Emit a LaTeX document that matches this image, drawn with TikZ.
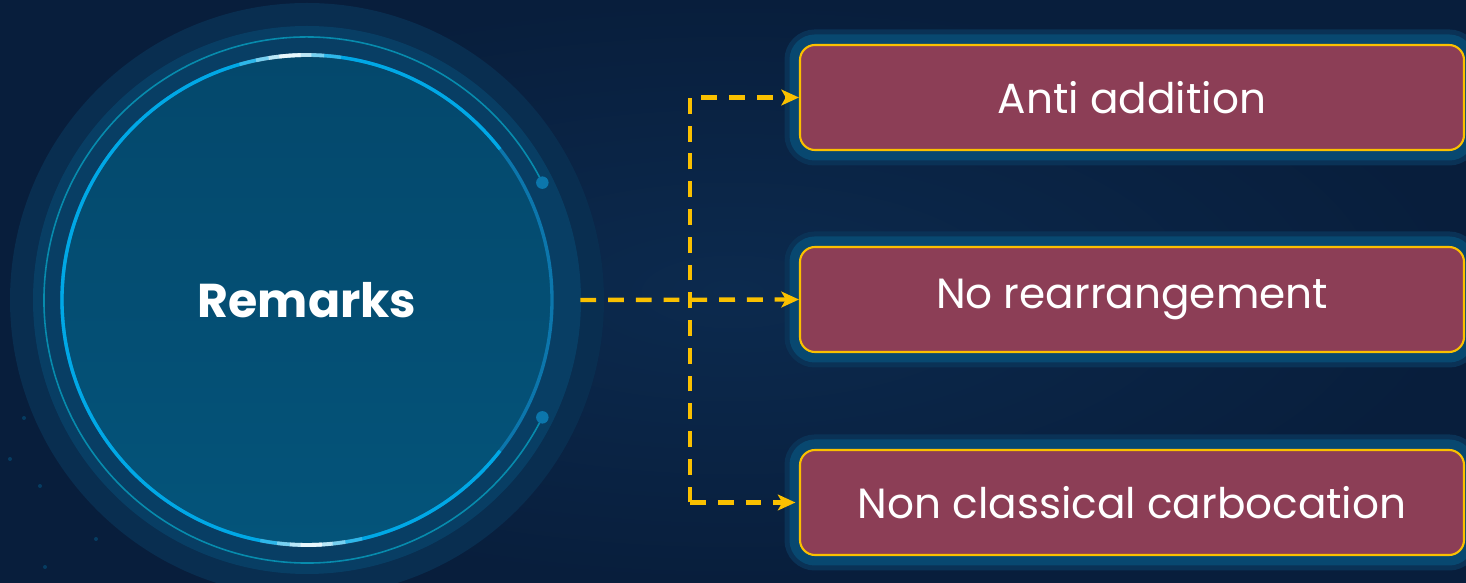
\documentclass[tikz,border=0pt]{standalone}
\usepackage{fontspec}
\setmainfont{Poppins}
\usetikzlibrary{positioning,calc,arrows.meta}
\definecolor{bgnavy}{RGB}{12,42,78}
\definecolor{bgdeep}{RGB}{8,30,60}
\definecolor{halofaint}{RGB}{9,46,80}
\definecolor{haloband}{RGB}{8,62,100}
\definecolor{discblue}{RGB}{4,84,122}
\definecolor{disctop}{RGB}{4,72,108}
\definecolor{rimcyan}{RGB}{0,168,230}
\definecolor{ringblue}{RGB}{12,118,172}
\definecolor{plum}{RGB}{140,62,86}
\definecolor{gold}{RGB}{250,192,0}
\definecolor{glowband}{RGB}{8,72,112}
\definecolor{glowfaint}{RGB}{10,50,86}
\tikzset{
    % Central hub (text only, discs are filled underneath)
    hub/.style={
        circle, draw=none, minimum size=10.92cm, inner sep=0pt,
        text=white, font=\bfseries\fontsize{27}{32}\selectfont
    },
    % Option boxes on the right
    optbox/.style={
        rectangle, draw=gold, line width=1.2pt, fill=plum,
        rounded corners=0.3cm,
        minimum width=13.28cm, minimum height=2.1cm,
        text=white, font=\fontsize{24}{29}\selectfont,
        preaction={draw=glowfaint, line width=0.62cm},
        preaction={draw=glowband, line width=0.42cm}
    },
    % Dashed yellow connectors
    flow/.style={
        draw=gold, line width=2.5pt, dash pattern=on 9pt off 6.8pt,
        -{Stealth[length=10pt, width=9pt, inset=2.5pt]}
    }
}

\begin{document}
\begin{tikzpicture}

% canvas
\useasboundingbox (0,0) rectangle (29.32,11.66);
\shade[inner color=bgnavy, outer color=bgdeep] (0,0) rectangle (29.32,11.66);

% faint particles bottom left
\foreach \px/\py in {0.48/3.3, 0.2/2.48, 1.46/2.55, 0.8/1.94, 2.5/1.42, 2.46/1.12, 1.92/0.88, 0.9/0.32, 4.4/0.38}
    \fill[rimcyan, opacity=0.22] (\px,\py) circle (0.04);

% hub discs
\coordinate (c) at (6.14,5.66);
\fill[halofaint] (c) circle (5.94);
\fill[haloband] (c) circle (5.48);
\draw[ringblue!60!cyan, line width=0.9pt, opacity=0.7]
    ($(c)+(26.5:5.26)$) arc[start angle=26.5, end angle=333.5, radius=5.26];
\fill[ringblue] ($(c)+(26.5:5.26)$) circle (0.125);
\fill[ringblue] ($(c)+(-26.5:5.26)$) circle (0.125);
\shade[top color=disctop, bottom color=discblue] (c) circle (4.9);
\draw[ringblue, line width=1.9pt] (c) circle (4.9);
\draw[rimcyan, line width=1.9pt] ($(c)+(38:4.9)$) arc[start angle=38, end angle=322, radius=4.9];

% glints on the rim
\foreach \w/\o in {12/0.18, 8/0.35, 5/0.5, 2.5/0.7} {
    \draw[white, opacity=\o, line width=2.2pt]
        ($(c)+(94-\w:4.9)$) arc[start angle=94-\w, end angle=94+\w, radius=4.9];
    \draw[white, opacity=\o, line width=2.2pt]
        ($(c)+(-89-\w:4.9)$) arc[start angle=-89-\w, end angle=-89+\w, radius=4.9];
}

\node[hub] (remarks) at (c) {Remarks};

% options
\node[optbox] (anti) at (22.64,9.71) {Anti addition};
\node[optbox] (norearr) at (22.64,5.67) {No rearrangement};
\node[optbox] (nonclass) at (22.64,1.61) {Non classical carbocation};

% connectors
\coordinate (trunk) at (13.8,5.66);
\draw[flow] (remarks.east) -- (norearr.west);
\draw[flow] (trunk |- nonclass.west) -- (trunk |- anti.west) -- (anti.west);
\draw[flow] (trunk |- nonclass.west) -- ([xshift=-2pt]nonclass.west);

\end{tikzpicture}
\end{document}
